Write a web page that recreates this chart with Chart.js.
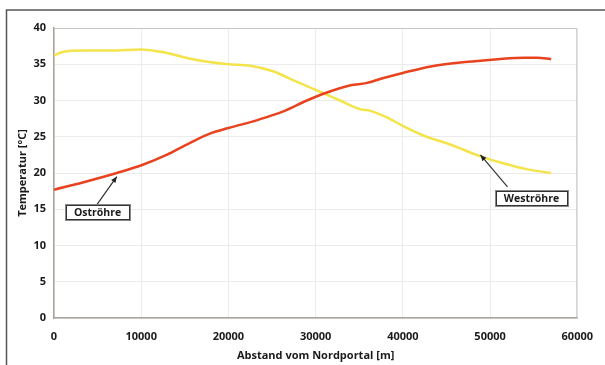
<!DOCTYPE html>
<html><head><meta charset="utf-8">
<script src="https://cdn.jsdelivr.net/npm/chart.js@4/dist/chart.umd.min.js"></script>
<style>html,body{margin:0;padding:0;background:#fff}#wrap{width:605px;height:365px;position:relative}</style>
</head><body><div id="wrap"><canvas id="c" width="605" height="365"></canvas></div>
<script>
const ostX = [0, 3300, 7200, 10100, 12900, 15500, 17800, 20000, 23300, 26300, 29000, 31300, 34000, 35800, 37800, 40000, 43200, 47100, 50900, 53900, 55400, 57000];
const ostY = [17.7, 18.7, 20.0, 21.1, 22.5, 24.1, 25.4, 26.2, 27.3, 28.5, 30.0, 31.1, 32.1, 32.4, 33.1, 33.8, 34.7, 35.3, 35.7, 35.9, 35.9, 35.7];
const westX = [0, 1000, 3300, 6500, 10000, 12400, 15500, 17800, 20000, 22500, 25200, 27800, 30900, 32800, 35100, 36200, 38100, 40000, 42500, 45500, 48900, 51600, 54300, 57000];
const westY = [36.2, 36.7, 36.9, 36.9, 37.05, 36.7, 35.8, 35.3, 35.0, 34.8, 34.0, 32.6, 31.0, 30.0, 28.8, 28.6, 27.7, 26.5, 25.1, 23.9, 22.3, 21.3, 20.5, 20.0];
const seriesNames = ['Oströhre', 'Weströhre'];
const xTitle = 'Abstand vom Nordportal [m]';
const yTitle = 'Temperatur [°C]';
// annotation labels: [label, boxX, boxY, tailX, tailY, tipX, tipY] in data units
const notes = [
  ['Oströhre', 5000, 14.6, 4900, 15.6, 7200, 19.5],
  ['Weströhre', 54750, 16.5, 52000, 18.1, 48900, 22.5]
];

const FONT = "'Open Sans', 'Liberation Sans', sans-serif";

const framePlugin = {
  id: 'frame',
  beforeDraw(chart) {
    const ctx = chart.ctx;
    ctx.save();
    ctx.fillStyle = '#fff';
    ctx.fillRect(0, 0, chart.width, chart.height);
    ctx.strokeStyle = '#555';
    ctx.lineWidth = 1.5;
    ctx.beginPath();
    ctx.moveTo(6.5, chart.height + 2);
    ctx.lineTo(6.5, 10);
    ctx.lineTo(chart.width + 2, 10);
    ctx.stroke();
    ctx.restore();
  },
  afterDatasetsDraw(chart) {
    const ctx = chart.ctx;
    const xs = chart.scales.x, ys = chart.scales.y;
    const a = chart.chartArea;
    ctx.save();
    ctx.strokeStyle = '#c8c4c0';
    ctx.lineWidth = 1;
    ctx.beginPath();
    ctx.moveTo(a.left, a.top + 0.5);
    ctx.lineTo(a.right - 0.5, a.top + 0.5);
    ctx.lineTo(a.right - 0.5, a.bottom);
    ctx.stroke();
    ctx.font = "bold 10.5px " + FONT;
    ctx.textAlign = 'center';
    ctx.textBaseline = 'middle';
    for (const n of notes) {
      const bx = xs.getPixelForValue(n[1]), by = ys.getPixelForValue(n[2]);
      const tx = xs.getPixelForValue(n[3]), ty = ys.getPixelForValue(n[4]);
      const px = xs.getPixelForValue(n[5]), py = ys.getPixelForValue(n[6]);
      ctx.strokeStyle = '#333';
      ctx.fillStyle = '#222';
      ctx.lineWidth = 1.2;
      ctx.beginPath();
      ctx.moveTo(tx, ty);
      ctx.lineTo(px, py);
      ctx.stroke();
      const ang = Math.atan2(py - ty, px - tx);
      const L = 6, W = 2.6;
      ctx.beginPath();
      ctx.moveTo(px, py);
      ctx.lineTo(px - L * Math.cos(ang) + W * Math.sin(ang), py - L * Math.sin(ang) - W * Math.cos(ang));
      ctx.lineTo(px - L * Math.cos(ang) - W * Math.sin(ang), py - L * Math.sin(ang) + W * Math.cos(ang));
      ctx.closePath();
      ctx.fill();
      const w = ctx.measureText(n[0]).width + 18, h = 16;
      ctx.fillStyle = '#fff';
      ctx.fillRect(bx - w / 2, by - h / 2, w, h);
      ctx.strokeStyle = '#888';
      ctx.lineWidth = 1;
      ctx.strokeRect(Math.round(bx - w / 2) + 0.5, Math.round(by - h / 2) + 0.5, Math.round(w), h);
      ctx.strokeStyle = '#333';
      ctx.strokeRect(Math.round(bx - w / 2) + 1.5, Math.round(by - h / 2) + 1.5, Math.round(w) - 2, h - 2);
      ctx.fillStyle = '#1a1a1a';
      ctx.fillText(n[0], bx, by + 0.5);
    }
    ctx.restore();
  }
};

new Chart(document.getElementById('c'), {
  type: 'line',
  data: {
    datasets: [
      {
        label: seriesNames[0],
        data: ostX.map((x, i) => ({x, y: ostY[i]})),
        borderColor: '#e8431e',
        borderWidth: 2.5,
        pointRadius: 0,
        cubicInterpolationMode: 'monotone',
        fill: false
      },
      {
        label: seriesNames[1],
        data: westX.map((x, i) => ({x, y: westY[i]})),
        borderColor: '#f4e44c',
        borderWidth: 2.5,
        pointRadius: 0,
        cubicInterpolationMode: 'monotone',
        fill: false
      }
    ]
  },
  options: {
    responsive: false,
    animation: false,
    devicePixelRatio: 1,
    layout: { padding: { left: 0, top: 28, right: 25, bottom: 0 } },
    plugins: { legend: { display: false }, tooltip: { enabled: false } },
    scales: {
      x: {
        type: 'linear',
        min: 0, max: 60000,
        afterFit(s) { s.height = 47; },
        ticks: { stepSize: 10000, padding: 12, color: '#1a1a1a', font: { family: FONT, size: 11, weight: 'bold' }, callback: v => String(v) },
        grid: { color: '#ebebeb', lineWidth: 1, drawTicks: false },
        border: { color: '#aaa39c', width: 1.5 },
        title: { display: true, text: xTitle, color: '#1a1a1a', padding: { top: 0, bottom: 3 }, font: { family: FONT, size: 11, weight: 'bold' } }
      },
      y: {
        min: 0, max: 40,
        afterFit(s) { s.width = 54; },
        ticks: { stepSize: 5, padding: 8, color: '#1a1a1a', font: { family: FONT, size: 11, weight: 'bold' } },
        grid: { color: '#ebebeb', lineWidth: 1, drawTicks: false },
        border: { color: '#aaa39c', width: 1.5 },
        title: { display: true, text: yTitle, color: '#1a1a1a', padding: { top: 16, bottom: 0 }, font: { family: FONT, size: 11, weight: 'bold' } }
      }
    }
  },
  plugins: [framePlugin]
});
</script>
</body></html>
